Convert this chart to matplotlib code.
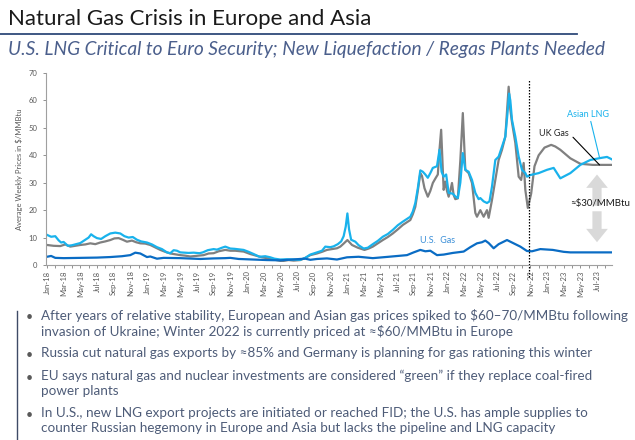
import numpy as np
import pandas as pd
import matplotlib.pyplot as plt
from matplotlib.patches import FancyArrowPatch

# months since Jan-2018 (weekly data, thinned out)
asia_m = [0, 0.5, 1.0, 1.4, 1.7, 2.0, 2.5, 3.0, 3.5, 4.0, 4.5, 5.0, 5.3, 5.6, 6.0, 6.5, 7.0, 7.6,
          8.2, 8.8, 9.3, 9.8, 10.3, 10.8, 11.3, 12.0, 12.6, 13.2, 13.8, 14.4, 14.8, 15.2, 15.6,
          16.0, 17.0, 17.6, 18.3, 18.7, 19.3, 20.0, 20.4, 21.0, 21.4, 22.0, 22.5, 23.0, 23.6,
          24.2, 24.8, 25.5, 26.2, 26.8, 27.3, 28.0, 28.8, 29.5, 30.4, 31.0, 31.6, 32.4, 33.0,
          33.4, 34.0, 34.4, 34.9, 35.3, 35.6, 35.85, 36.05, 36.25, 36.5, 37.0, 37.4, 38.0, 38.5,
          39.1, 39.7, 40.3, 40.9, 41.5, 42.1, 42.7, 43.2, 43.6, 43.9, 44.2, 44.5, 44.8, 45.1,
          45.4, 45.7, 46.0, 46.3, 46.8, 47.1, 47.35, 47.6, 47.9, 48.2, 48.7, 49.0, 49.3, 49.6,
          49.9, 50.2, 50.6, 51.0, 51.4, 51.8, 52.0, 52.4, 52.8, 53.1, 53.4, 53.8, 54.2, 54.6,
          55.0, 55.25, 55.45, 55.6, 55.8, 56.2, 56.6, 57.0, 57.4, 57.6, 58.0, 59.0, 60.0, 60.8,
          61.6, 62.8, 64.0, 65.2, 66.4, 67.2, 67.8]
asia_v = [11.0, 10.3, 10.5, 9.0, 8.2, 8.4, 7.0, 7.2, 7.6, 8.0, 9.0, 10.0, 11.2, 10.5, 9.8, 9.5,
          10.5, 11.5, 11.8, 11.5, 10.5, 10.0, 10.2, 9.2, 8.6, 8.2, 7.5, 6.5, 5.8, 4.6, 4.3, 5.4,
          5.2, 4.6, 4.4, 4.5, 4.3, 4.6, 5.4, 5.8, 5.6, 6.3, 6.7, 6.0, 5.9, 5.7, 5.5, 4.8, 4.0,
          3.0, 3.2, 2.8, 2.3, 2.0, 2.1, 2.0, 1.9, 2.6, 3.8, 4.6, 5.2, 6.7, 6.5, 6.8, 7.6, 8.6,
          10.5, 14.0, 18.8, 13.0, 9.2, 8.5, 7.2, 6.0, 6.3, 7.6, 8.8, 10.3, 11.3, 12.8, 14.5,
          15.8, 16.8, 17.6, 19.5, 22.6, 28.0, 34.5, 34.0, 33.0, 31.8, 33.5, 35.4, 36.0, 42.0,
          34.0, 32.2, 33.0, 26.3, 26.0, 25.0, 24.4, 30.0, 40.8, 34.7, 34.0, 31.0, 26.3, 24.0,
          24.4, 23.2, 22.6, 23.2, 28.6, 38.3, 39.5, 43.2, 46.8, 55.0, 62.5, 60.0, 52.9, 46.8,
          39.5, 34.7, 33.5, 32.2, 32.8, 33.5, 34.7, 35.4, 31.6, 33.5, 36.5, 38.3, 39.0, 39.4,
          38.5]

uk_m = [0, 0.8, 1.6, 2.2, 2.8, 3.4, 4.0, 4.6, 5.2, 5.8, 6.4, 7.0, 7.6, 8.1, 8.6, 9.1, 9.6, 10.2,
        10.7, 11.2, 11.8, 12.4, 13.0, 13.6, 14.2, 14.8, 15.4, 16.0, 16.6, 17.2, 17.8, 18.8,
        19.4, 20.0, 20.6, 21.4, 22.0, 22.6, 23.6, 24.4, 25.0, 25.8, 26.6, 27.4, 28.0, 28.4,
        29.0, 29.6, 30.4, 31.0, 31.6, 32.4, 33.0, 33.6, 34.2, 34.8, 35.2, 35.6, 36.05, 36.6,
        37.3, 38.1, 38.6, 39.1, 39.7, 40.3, 40.9, 41.5, 42.1, 42.7, 43.2, 43.6, 43.9, 44.2,
        44.5, 44.8, 45.0, 45.3, 45.7, 46.0, 46.3, 46.6, 46.9, 47.1, 47.3, 47.45, 47.6, 47.8,
        48.0, 48.2, 48.4, 48.6, 48.8, 49.0, 49.3, 49.6, 49.9, 50.05, 50.2, 50.6, 51.0, 51.4,
        51.6, 52.0, 52.4, 52.8, 53.0, 53.4, 53.8, 54.2, 54.6, 55.0, 55.25, 55.4, 55.6, 55.8,
        56.2, 56.6, 56.9, 57.2, 57.4, 57.7, 58.1, 58.5, 59.0, 59.7, 60.5, 61.0, 61.6, 62.8,
        64.0, 65.5, 67.8]
uk_v = [7.3, 7.0, 6.9, 7.5, 6.7, 7.0, 7.3, 7.5, 7.9, 7.6, 8.2, 8.6, 9.1, 9.7, 9.8, 9.2, 8.5,
        8.9, 8.3, 7.9, 7.8, 7.3, 6.4, 5.5, 4.8, 4.2, 3.9, 3.6, 3.4, 3.1, 3.3, 3.6, 4.2, 4.3,
        5.0, 5.5, 5.2, 5.2, 4.9, 4.0, 3.5, 2.8, 2.4, 1.9, 1.5, 1.5, 1.8, 1.6, 1.8, 2.6, 3.6,
        4.2, 4.8, 5.5, 5.8, 6.1, 6.7, 7.8, 9.1, 7.3, 6.3, 5.5, 6.0, 6.7, 7.9, 9.1, 10.2, 11.5,
        13.0, 14.6, 15.6, 16.4, 18.5, 21.2, 27.0, 33.4, 32.5, 28.0, 24.9, 27.0, 29.9, 31.5,
        33.0, 42.0, 49.3, 38.0, 27.4, 30.4, 27.0, 24.9, 27.0, 29.9, 25.5, 24.0, 24.3, 38.0,
        55.4, 45.0, 34.7, 33.5, 29.9, 19.0, 17.6, 20.0, 17.6, 20.0, 17.2, 23.7, 31.0, 38.3,
        42.0, 46.8, 58.0, 65.0, 56.6, 52.0, 44.5, 32.2, 31.0, 37.2, 27.4, 20.8, 26.0, 36.0,
        40.0, 42.8, 43.8, 43.2, 42.0, 38.9, 36.9, 36.5, 36.5]

us_m = [0, 0.5, 1.0, 2.0, 4.0, 6.0, 7.6, 9.0, 10.0, 10.6, 11.2, 12.0, 12.4, 13.2, 14.0, 16.0,
        18.4, 20.0, 21.4, 22.0, 23.0, 26.4, 28.0, 30.4, 31.0, 31.6, 32.4, 33.6, 34.8, 36.0,
        37.4, 39.1, 41.0, 43.2, 44.0, 44.8, 45.4, 46.0, 46.8, 47.6, 48.7, 50.0, 50.8, 51.6,
        52.2, 52.6, 53.0, 53.6, 54.2, 55.2, 56.0, 56.8, 57.6, 58.2, 59.2, 60.7, 62.0, 62.8,
        67.8]
us_v = [3.0, 3.3, 2.6, 2.5, 2.6, 2.7, 2.9, 3.2, 3.6, 4.5, 4.2, 2.9, 3.1, 2.3, 2.6, 2.5, 2.2,
        2.4, 2.5, 2.6, 2.2, 1.8, 1.7, 2.2, 2.3, 1.9, 2.2, 2.4, 2.0, 2.8, 3.0, 2.5, 3.0, 3.6,
        4.6, 5.5, 5.0, 5.2, 3.6, 3.8, 4.4, 4.9, 6.5, 7.9, 8.3, 8.9, 8.0, 6.1, 7.6, 9.1, 7.9,
        6.7, 5.1, 5.0, 5.8, 5.5, 4.8, 4.6, 4.6]

month_labels = pd.date_range("2018-01-01", periods=34, freq="2MS").strftime("%b-%y").tolist()

bullets = [
    "After years of relative stability, European and Asian gas prices spiked to $60\u201370/MMBtu following\n"
    "invasion of Ukraine; Winter 2022 is currently priced at \u2248$60/MMBtu in Europe",
    "Russia cut natural gas exports by \u224885% and Germany is planning for gas rationing this winter",
    "EU says natural gas and nuclear investments are considered \u201cgreen\u201d if they replace coal-fired\n"
    "power plants",
    "In U.S., new LNG export projects are initiated or reached FID; the U.S. has ample supplies to\n"
    "counter Russian hegemony in Europe and Asia but lacks the pipeline and LNG capacity",
]

plt.rcParams["font.family"] = ["Lato", "DejaVu Sans"]

W, H = 635, 440
fig = plt.figure(figsize=(6.35, 4.4), dpi=100)

def fx(px):
    return px / W

def fy(py):
    return 1 - py / H

# header
fig.text(fx(8), fy(19), "Natural Gas Crisis in Europe and Asia", fontsize=16, color="#1a1a1a",
         va="center", ha="left")
fig.add_artist(plt.Line2D([0, fx(577)], [fy(34), fy(34)], color="#2f4a7a", lw=1.3))
fig.text(fx(8), fy(50), "U.S. LNG Critical to Euro Security; New Liquefaction / Regas Plants Needed",
         fontsize=13.8, style="italic", color="#4b5f8c", va="center", ha="left")

# chart
ax = fig.add_axes([fx(45.7), fy(265), fx(612) - fx(45.7), fy(73) - fy(265)])
ax.plot(uk_m, uk_v, color="#808080", lw=1.6)
ax.plot(asia_m, asia_v, color="#19b2ec", lw=1.6)
ax.plot(us_m, us_v, color="#0a6cc4", lw=1.6)

ax.set_xlim(-0.15, 67.8)
ax.set_ylim(0, 70)
ax.set_yticks(range(0, 71, 10))
ax.set_xticks(np.arange(0, 67, 2))
ax.set_xticklabels(month_labels, rotation=90)
ax.set_xticks(np.arange(0, 68, 1), minor=True)
ax.tick_params(axis="both", colors="#808080", labelcolor="#595959", labelsize=5.5, length=2.5,
               width=0.6)
ax.tick_params(axis="x", which="minor", colors="#808080", length=2.5, width=0.6)
ax.tick_params(axis="x", pad=1.5)
for s in ["top", "right"]:
    ax.spines[s].set_visible(False)
for s in ["left", "bottom"]:
    ax.spines[s].set_color("#a0a0a0")
    ax.spines[s].set_linewidth(0.8)
ax.set_ylabel("Average Weekly Prices in $/MMBtu", fontsize=5.5, color="#595959", labelpad=4)

ax.vlines(57.9, -4.5, 67.5, colors="black", linestyles=(0, (1.2, 1.2)), lw=0.9, clip_on=False)

ax.text(44.8, 8.8, "U.S.  Gas", color="#3b8fd8", fontsize=6.5, ha="left", va="center")
ax.annotate("Asian LNG", xy=(66.3, 39.2), xytext=(62.4, 55.0), color="#19b2ec", fontsize=6.5,
            ha="left", va="center",
            arrowprops=dict(arrowstyle="-", color="#19b2ec", lw=0.8, shrinkA=0, shrinkB=0,
                            relpos=(0.55, 0.0)))
ax.annotate("UK Gas", xy=(66.3, 36.5), xytext=(59.1, 48.0), color="#262626", fontsize=6.5,
            ha="left", va="center",
            arrowprops=dict(arrowstyle="-", color="black", lw=0.8, shrinkA=1, shrinkB=0,
                            relpos=(1.0, 0.5)))

for top in (34, 7.3):
    ax.add_patch(FancyArrowPatch((66.0, 20.6), (66.0, top),
                                 arrowstyle="simple,head_length=0.8,head_width=1.3,tail_width=0.55",
                                 mutation_scale=12, color="#d9d9d9", lw=0))
ax.text(62.8, 22.3, "\u2248$30/MMBtu", fontsize=7, color="#1a1a1a", ha="left", va="center")

# bullets
fig.add_artist(plt.Line2D([fx(16.5), fx(16.5)], [fy(311), fy(440)], color="#3f4b66", lw=1.0))
ys = [317, 355, 378, 415]
for y, b in zip(ys, bullets):
    fig.text(fx(25.5), fy(y), "\u2022", fontsize=9, color="#595959", va="center", ha="left")
    fig.text(fx(41), fy(y - 8), b, fontsize=9.75, color="#4e5c78", va="top", ha="left",
             linespacing=1.25)

fig.savefig("out.png", dpi=100)
